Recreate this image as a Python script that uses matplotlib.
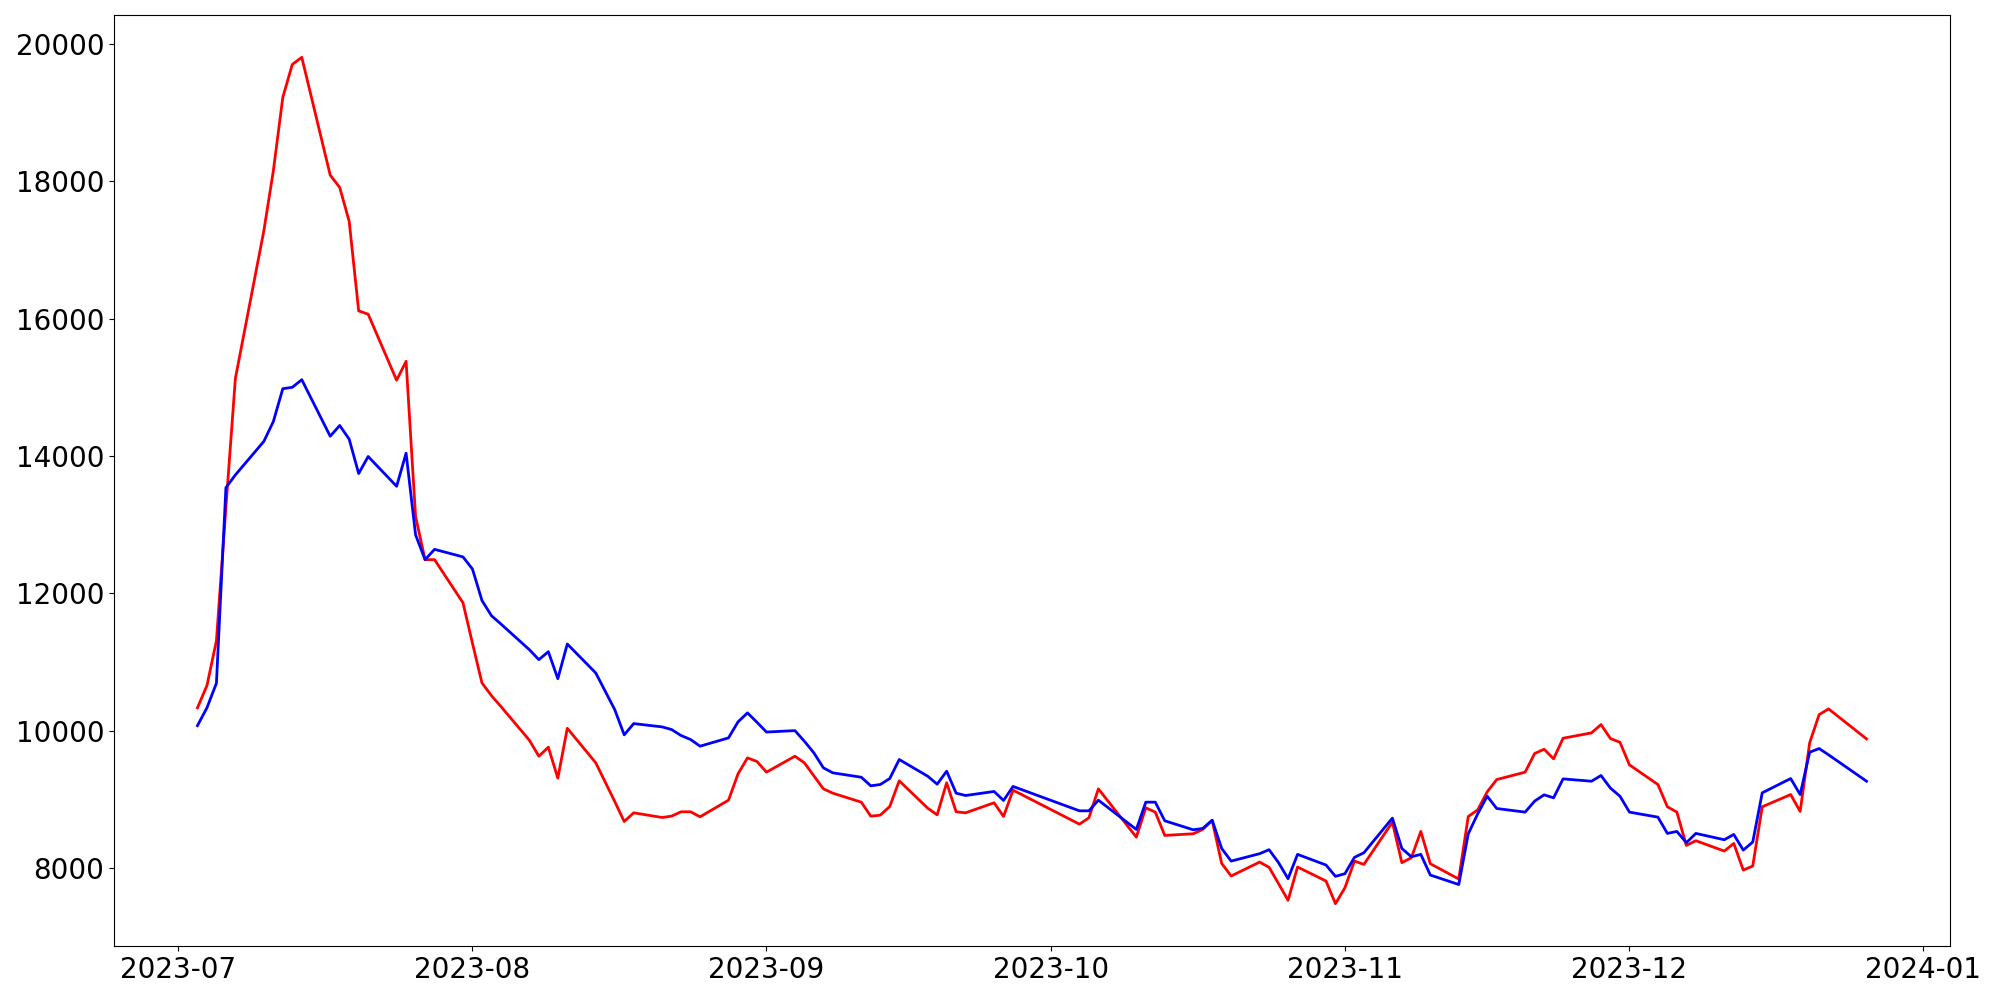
import matplotlib.pyplot as plt
import pandas as pd

# KRX trading days, Jul 3 - Dec 26 2023 (market holidays removed)
holidays = ['2023-08-15', '2023-09-28', '2023-09-29', '2023-10-02',
            '2023-10-03', '2023-10-09', '2023-12-25']
dates = pd.bdate_range('2023-07-03', '2023-12-26', freq='C', holidays=holidays)

red_values = [
    # juillet
    10333, 10656, 11309, 13250, 15130, 17278, 18150, 19221, 19700, 19804,
    18088, 17910, 17416, 16112, 16064, 15103, 15378, 13118, 12490, 12490, 11862,
    # aout
    11271, 10695, 10510, 10352, 9861, 9628, 9759, 9308, 10035, 9532, 8969,
    8678, 8804, 8736, 8756, 8819, 8819, 8746, 8988, 9371, 9604, 9551,
    # septembre
    9396, 9628, 9532, 9342, 9153, 9090, 8959, 8755, 8770, 8896, 9270,
    8872, 8775, 9241, 8819, 8804, 8950, 8751, 9134,
    # octobre
    8639, 8731, 9153, 8450, 8877, 8814, 8475, 8499, 8562, 8693, 8068,
    7884, 8087, 8010, 7772, 7530, 8015, 7811, 7481,
    # novembre
    7714, 8101, 8053, 8668, 8078, 8150, 8533, 8063, 7840, 8750, 8847,
    9110, 9288, 9396, 9667, 9730, 9590, 9890, 9968, 10089, 9885, 9831,
    # decembre
    9502, 9216, 8892, 8814, 8329, 8398, 8247, 8358, 7970, 8029, 8892,
    9070, 8824, 9822, 10234, 10317, 9880,
]

blue_values = [
    # juillet
    10073, 10333, 10691, 13538, 13724, 14212, 14500, 14979, 14999, 15110,
    14287, 14444, 14244, 13744, 13992, 13558, 14040, 12852, 12490, 12640, 12530,
    # aout
    12353, 11896, 11674, 11553, 11179, 11034, 11150, 10757, 11262, 10840, 10307,
    9939, 10103, 10055, 10016, 9929, 9871, 9774, 9895, 10128, 10259, 10122,
    # septembre
    9980, 10001, 9846, 9677, 9459, 9386, 9322, 9197, 9216, 9303, 9580,
    9337, 9221, 9410, 9090, 9056, 9115, 8984, 9188,
    # octobre
    8833, 8833, 8988, 8562, 8959, 8959, 8688, 8557, 8576, 8697, 8285,
    8101, 8209, 8267, 8078, 7845, 8199, 8044, 7879,
    # novembre
    7918, 8155, 8223, 8727, 8285, 8164, 8199, 7898, 7760, 8497, 8790,
    9046, 8867, 8814, 8974, 9066, 9022, 9298, 9264, 9347, 9163, 9046,
    # decembre
    8814, 8741, 8504, 8533, 8369, 8504, 8412, 8489, 8261, 8378, 9095,
    9303, 9070, 9686, 9740, 9648, 9264,
]

plt.figure(figsize=(20, 10), dpi=100)
plt.plot(dates, red_values, color='red', linewidth=2)
plt.plot(dates, blue_values, color='blue', linewidth=2)
plt.xticks(fontsize=20)
plt.yticks(fontsize=20)
plt.subplots_adjust(left=0.057, right=0.975, top=0.985, bottom=0.054)
plt.savefig('out.png')
